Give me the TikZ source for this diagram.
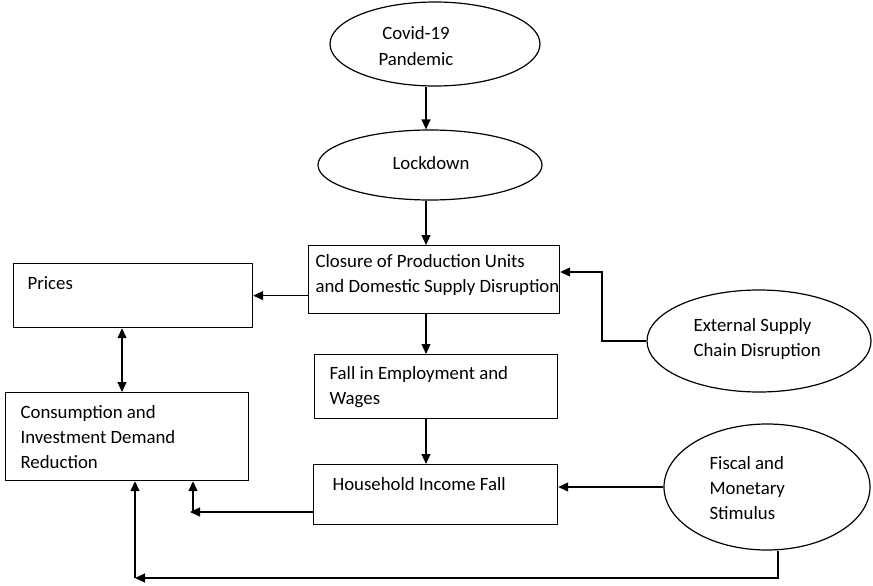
\documentclass[tikz,border=0pt]{standalone}
\usepackage{fontspec}
\setmainfont{Carlito}
\usetikzlibrary{shapes.geometric,arrows.meta,calc}
\begin{document}
\begin{tikzpicture}[x=1pt,y=-1pt,
 line width=1.2pt,
 box/.style={draw,rectangle,inner sep=0,anchor=north west},
 ell/.style={draw,ellipse,inner sep=0},
 txt/.style={inner sep=0,align=left,anchor=west,font=\fontsize{18.8}{25.3}\selectfont},
 ctxt/.style={inner sep=0,align=center,font=\fontsize{18.8}{25.3}\selectfont},
 arr/.style={-{Triangle[length=10pt,width=9pt]}},
 dbl/.style={{Triangle[length=10pt,width=9pt]}-{Triangle[length=10pt,width=9pt]}}]
\useasboundingbox (0,0) rectangle (873,586);
% ellipses
\node[ell,minimum width=210pt,minimum height=84pt] (covid) at (435,44) {};
\node[ctxt] (covidt) at (416,46) {Covid-19\\Pandemic};
\node[ell,minimum width=224pt,minimum height=70pt] (lock) at (430,165) {};
\node[ctxt] (lockt) at (431,163) {Lockdown};
\node[ell,minimum width=224pt,minimum height=102pt] (ext) at (759,341) {};
\node[txt] (extt) at (693,339) {External Supply\\Chain Disruption};
\node[ell,minimum width=206pt,minimum height=126pt] (fis) at (767,487) {};
\node[txt] (fist) at (709,488) {Fiscal and\\Monetary\\Stimulus};
% boxes
\node[box,minimum width=251pt,minimum height=68pt] (clos) at (308,245) {};
\node[txt] (clost) at (315,275) {Closure of Production Units\\and Domestic Supply Disruption};
\node[box,minimum width=239pt,minimum height=64pt] (pri) at (13,263) {};
\node[txt] (prit) at (27,283) {Prices};
\node[box,minimum width=243pt,minimum height=88pt] (cons) at (5,392) {};
\node[txt] (const) at (20,437) {Consumption and\\Investment Demand\\Reduction};
\node[box,minimum width=243pt,minimum height=64pt] (fall) at (314,354) {};
\node[txt] (fallt) at (329,387) {Fall in Employment and\\Wages};
\node[box,minimum width=244pt,minimum height=60pt] (hh) at (313,464) {};
\node[txt] (hht) at (332,484) {Household Income Fall};
% coordinates
\coordinate (vx) at (426,0);
\coordinate (c1) at (602,272);
\coordinate (c2) at (778,578);
\coordinate (c3) at (135,578);
\coordinate (c4) at (190,512);
\coordinate (c5) at (193,512);
\coordinate (c6) at (122,0);
% connectors
\draw[arr] (covid.south -| vx) -- (lock.north -| vx);
\draw[arr] (lock.south -| vx) -- (clos.north -| vx);
\draw[arr] (clos.south -| vx) -- (fall.north -| vx);
\draw[arr] (fall.south -| vx) -- (hh.north -| vx);
\draw[arr] (clos.west |- pri.east) -- (pri.east);
\draw[dbl] (pri.south -| c6) -- (cons.north -| c6);
\draw[arr] (ext.west) -| (c1) -- (clos.east |- c1);
\draw[arr] (fis.west) -- (hh.east |- fis.west);
\draw[arr] (hh.west |- c4) -- (c4);
\draw[arr] (c5) -- (cons.south -| c5);
\draw[arr] (fis.south -| c2) -- (c2) -- (c3);
\draw[arr] (c3) -- (cons.south -| c3);
\end{tikzpicture}
\end{document}
